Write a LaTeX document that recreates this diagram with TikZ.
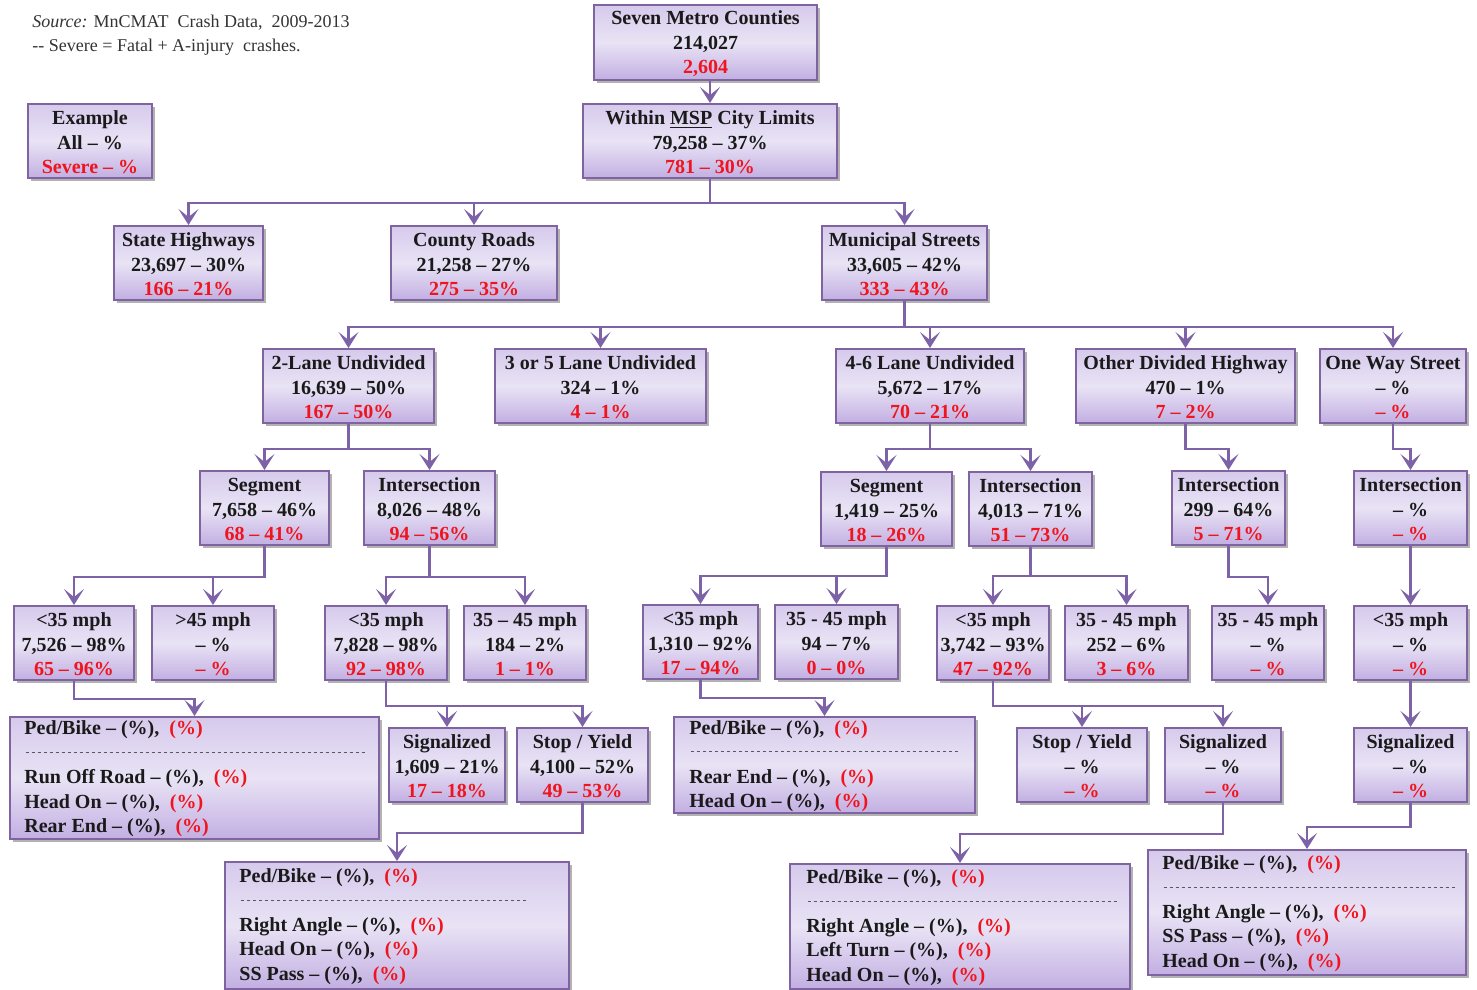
\documentclass[tikz,border=0pt]{standalone}
\usepackage{fontspec}
\setmainfont{Liberation Serif}
\usetikzlibrary{arrows.meta,shadows,calc}
\definecolor{bxborder}{HTML}{8064A2}
\definecolor{bxtop}{HTML}{D6CAEC}
\definecolor{bxmid}{HTML}{E9E3F5}
\definecolor{bxbot}{HTML}{C2AFE2}
\definecolor{conncol}{HTML}{7E62A8}
\definecolor{svred}{HTML}{F0141E}
\definecolor{txt}{HTML}{1A1A1A}
\newcommand\svr[1]{\textcolor{svred}{#1}}
\newcommand\dashsep[1]{\hbox to #1{\color{black!65}\leaders\hbox to 3pt{\hss\vrule height 3.6pt depth -3.1pt width 1.8pt\hss}\hfill}}
\newcommand\crashbox[6]{%
  \pgfmathsetmacro\cbW{(#4-#2)*0.5}%
  \pgfmathsetmacro\cbH{(#5-#3)*0.5}%
  \node[box, minimum width=\cbW pt, minimum height=\cbH pt] (#1) at ({(#2+#4)/2},{(#3+#5)/2}) {\rule{0pt}{8.5pt}#6};%
}
\tikzset{
  x=0.5pt, y=-0.5pt,
  box/.style={draw=bxborder, line width=1pt, top color=bxtop, bottom color=bxbot, middle color=bxmid,
    inner sep=0pt, align=center, text=txt,
    font=\fontsize{10}{12.25}\selectfont\bfseries,
    drop shadow={shadow xshift=1.3pt, shadow yshift=-1.3pt, fill=black, opacity=0.3}},
  pedtext/.style={inner sep=0pt, align=left, text=txt, anchor=west,
    font=\fontsize{10}{12.25}\selectfont\bfseries},
  conn/.style={draw=conncol, line width=1.4pt,
    -{Stealth[length=8pt, width=10pt, inset=4pt]}},
  note/.style={inner sep=0pt, align=left, anchor=north west, text=black!80,
    font=\fontsize{9}{12}\selectfont},
}
\begin{document}
\begin{tikzpicture}
\useasboundingbox (0,0) rectangle (1477,990);

\node[note] (src) at (32,15) {\textit{Source:} MnCMAT\ \ Crash Data,\ \ 2009-2013\\-{}- Severe = Fatal + A-injury\ \ crashes.};

% level 0-1
\crashbox{seven}{594}{5}{817}{80}{Seven Metro Counties\\214,027\\\svr{2,604}}
\crashbox{within}{583}{104}{837}{178}{Within \underline{MSP} City Limits\\79,258 – 37\%\\\svr{781 – 30\%}}
\crashbox{example}{28}{104}{152}{178}{Example\\All – \%\\\svr{Severe – \%}}

% level 2
\crashbox{state}{114}{226}{263}{300}{State Highways\\23,697 – 30\%\\\svr{166 – 21\%}}
\crashbox{county}{391}{226}{557}{300}{County Roads\\21,258 – 27\%\\\svr{275 – 35\%}}
\crashbox{muni}{822}{226}{987}{300}{Municipal Streets\\33,605 – 42\%\\\svr{333 – 43\%}}

% level 3
\crashbox{twolane}{263}{349}{434}{423}{2-Lane Undivided\\16,639 – 50\%\\\svr{167 – 50\%}}
\crashbox{threefive}{495}{349}{706}{423}{3 or 5 Lane Undivided\\324 – 1\%\\\svr{4 – 1\%}}
\crashbox{foursix}{836}{349}{1024}{423}{4-6 Lane Undivided\\5,672 – 17\%\\\svr{70 – 21\%}}
\crashbox{odh}{1076}{349}{1295}{423}{Other Divided Highway\\470 – 1\%\\\svr{7 – 2\%}}
\crashbox{ows}{1320}{349}{1466}{423}{One Way Street\\– \%\\\svr{– \%}}

% level 4
\crashbox{segL}{200}{471}{329}{545}{Segment\\7,658 – 46\%\\\svr{68 – 41\%}}
\crashbox{intL}{364}{471}{495}{545}{Intersection\\8,026 – 48\%\\\svr{94 – 56\%}}
\crashbox{segM}{821}{472}{952}{546}{Segment\\1,419 – 25\%\\\svr{18 – 26\%}}
\crashbox{intM}{969}{472}{1092}{546}{Intersection\\4,013 – 71\%\\\svr{51 – 73\%}}
\crashbox{intO}{1172}{471}{1285}{545}{Intersection\\299 – 64\%\\\svr{5 – 71\%}}
\crashbox{intW}{1354}{471}{1467}{545}{Intersection\\– \%\\\svr{– \%}}

% level 5
\crashbox{ltA}{14}{606}{134}{680}{<35 mph\\7,526 – 98\%\\\svr{65 – 96\%}}
\crashbox{gtA}{152}{606}{274}{680}{>45 mph\\– \%\\\svr{– \%}}
\crashbox{ltB}{325}{606}{447}{680}{<35 mph\\7,828 – 98\%\\\svr{92 – 98\%}}
\crashbox{midB}{464}{606}{586}{680}{35 – 45 mph\\184 – 2\%\\\svr{1 – 1\%}}
\crashbox{ltC}{643}{605}{758}{679}{<35 mph\\1,310 – 92\%\\\svr{17 – 94\%}}
\crashbox{midC}{775}{605}{898}{679}{35 - 45 mph\\94 – 7\%\\\svr{0 – 0\%}}
\crashbox{ltD}{937}{606}{1049}{680}{<35 mph\\3,742 – 93\%\\\svr{47 – 92\%}}
\crashbox{midD}{1065}{606}{1188}{680}{35 - 45 mph\\252 – 6\%\\\svr{3 – 6\%}}
\crashbox{midO}{1212}{606}{1324}{680}{35 - 45 mph\\– \%\\\svr{– \%}}
\crashbox{ltW}{1354}{606}{1467}{680}{<35 mph\\– \%\\\svr{– \%}}

% level 6
\crashbox{sigL}{389}{728}{505}{802}{Signalized\\1,609 – 21\%\\\svr{17 – 18\%}}
\crashbox{stopL}{517}{728}{648}{802}{Stop / Yield\\4,100 – 52\%\\\svr{49 – 53\%}}
\crashbox{stopR}{1017}{728}{1147}{802}{Stop / Yield\\– \%\\\svr{– \%}}
\crashbox{sigR}{1165}{728}{1281}{802}{Signalized\\– \%\\\svr{– \%}}
\crashbox{sigW}{1354}{728}{1467}{802}{Signalized\\– \%\\\svr{– \%}}

% crash type boxes
\crashbox{pedA}{10}{717}{379}{839}{}
\node[pedtext] (pedAt) at ($(pedA.west)+(15,1)$) {Ped/Bike – (\%),\ \ \svr{(\%)}\\\dashsep{171.5pt}\\Run Off Road – (\%),\ \ \svr{(\%)}\\Head On – (\%),\ \ \svr{(\%)}\\Rear End – (\%),\ \ \svr{(\%)}};

\crashbox{pedB}{674}{717}{975}{813}{}
\node[pedtext] (pedBt) at ($(pedB.west)+(16,1)$) {Ped/Bike – (\%),\ \ \svr{(\%)}\\\dashsep{136.5pt}\\Rear End – (\%),\ \ \svr{(\%)}\\Head On – (\%),\ \ \svr{(\%)}};

\crashbox{pedC}{225}{862}{569}{989}{}
\node[pedtext] (pedCt) at ($(pedC.west)+(15,1)$) {Ped/Bike – (\%),\ \ \svr{(\%)}\\\dashsep{144pt}\\Right Angle – (\%),\ \ \svr{(\%)}\\Head On – (\%),\ \ \svr{(\%)}\\SS Pass – (\%),\ \ \svr{(\%)}};

\crashbox{pedD}{790}{864}{1130}{989}{}
\node[pedtext] (pedDt) at ($(pedD.west)+(17,1)$) {Ped/Bike – (\%),\ \ \svr{(\%)}\\\dashsep{156.5pt}\\Right Angle – (\%),\ \ \svr{(\%)}\\Left Turn\ – (\%),\ \ \svr{(\%)}\\Head On – (\%),\ \ \svr{(\%)}};

\crashbox{pedE}{1148}{850}{1466}{975}{}
\node[pedtext] (pedEt) at ($(pedE.west)+(15,1)$) {Ped/Bike – (\%),\ \ \svr{(\%)}\\\dashsep{147pt}\\Right Angle – (\%),\ \ \svr{(\%)}\\SS Pass – (\%),\ \ \svr{(\%)}\\Head On – (\%),\ \ \svr{(\%)}};

% connectors
\draw[conn] (within.north |- seven.south) -- (within.north);
\draw[conn] (within.south) -- ++(0,24) coordinate (b1) -| (state.north);
\draw[conn] (b1) -| (county.north);
\draw[conn] (b1) -| (muni.north);

\draw[conn] (muni.south) -- ++(0,26) coordinate (b2) -| (twolane.north);
\draw[conn] (b2) -| (threefive.north);
\draw[conn] (b2) -| (foursix.north);
\draw[conn] (b2) -| (odh.north);
\draw[conn] (b2) -| (ows.north);

\draw[conn] (twolane.south) -- ++(0,25) coordinate (b3) -| (segL.north);
\draw[conn] (b3) -| (intL.north);
\draw[conn] (foursix.south) -- ++(0,25) coordinate (b4) -| (segM.north);
\draw[conn] (b4) -| (intM.north);
\draw[conn] (odh.south) -- ++(0,25) -| (intO.north);
\draw[conn] (ows.south) -- ++(0,25) -| (intW.north);

\draw[conn] (segL.south) -- ++(0,31) coordinate (b5) -| (ltA.north);
\draw[conn] (b5) -| (gtA.north);
\draw[conn] (intL.south) -- ++(0,31) coordinate (b6) -| (ltB.north);
\draw[conn] (b6) -| (midB.north);
\draw[conn] (segM.south) -- ++(0,29) coordinate (b7) -| (ltC.north);
\draw[conn] (b7) -| (midC.north);
\draw[conn] (intM.south) -- ++(0,29) coordinate (b8) -| (ltD.north);
\draw[conn] (b8) -| (midD.north);
\draw[conn] (intO.south) -- ++(0,31) -| (midO.north);
\draw[conn] (intW.south) -- (ltW.north);

\draw[conn] (ltA.south) -- ++(0,18) -| (pedA.north);
\draw[conn] (ltB.south) -- ++(0,25) coordinate (b9) -| (sigL.north);
\draw[conn] (b9) -| (stopL.north);
\draw[conn] (stopL.south) -- ++(0,30) -| (pedC.north);
\draw[conn] (ltC.south) -- ++(0,18) -| (pedB.north);
\draw[conn] (ltD.south) -- ++(0,25) coordinate (b10) -| (stopR.north);
\draw[conn] (b10) -| (sigR.north);
\draw[conn] (sigR.south) -- ++(0,31) -| (pedD.north);
\draw[conn] (ltW.south) -- (sigW.north);
\draw[conn] (sigW.south) -- ++(0,24) -| (pedE.north);
\end{tikzpicture}
\end{document}
